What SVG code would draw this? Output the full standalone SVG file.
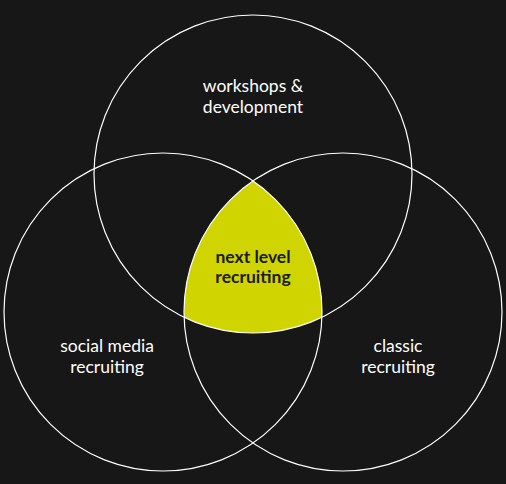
<svg xmlns="http://www.w3.org/2000/svg" width="506" height="484" viewBox="0 0 506 484">
<style>
.c{fill:none;stroke:#ffffff;stroke-width:1.2}
.t{font-family:Lato,"Open Sans",sans-serif;font-size:17.5px;fill:#ffffff;text-anchor:middle}
.b{font-family:Lato,"Open Sans",sans-serif;font-size:17.5px;font-weight:bold;fill:#1a1a1a;text-anchor:middle}
</style>
<rect width="506" height="484" fill="#171717"/>
<g id="center">
<path d="M253 180.9 A159 159 0 0 1 321.9 317.3 A159 159 0 0 1 184.1 317.3 A159 159 0 0 1 253 180.9 Z" fill="#d0d400"/>
</g>
<g id="connectors">
<circle id="c-top" class="c" cx="253" cy="174" r="159"/>
<circle id="c-left" class="c" cx="163" cy="312" r="159"/>
<circle id="c-right" class="c" cx="343" cy="312" r="159"/>
</g>
<g id="top"><text class="t" x="253" y="92">workshops &amp;</text><text class="t" x="253" y="113">development</text></g>
<g id="left"><text class="t" x="107" y="352">social media</text><text class="t" x="107" y="373">recruiting</text></g>
<g id="right"><text class="t" x="398" y="352">classic</text><text class="t" x="398" y="373">recruiting</text></g>
<g id="middle"><text class="b" x="253" y="263">next level</text><text class="b" x="253" y="283">recruiting</text></g>
</svg>
